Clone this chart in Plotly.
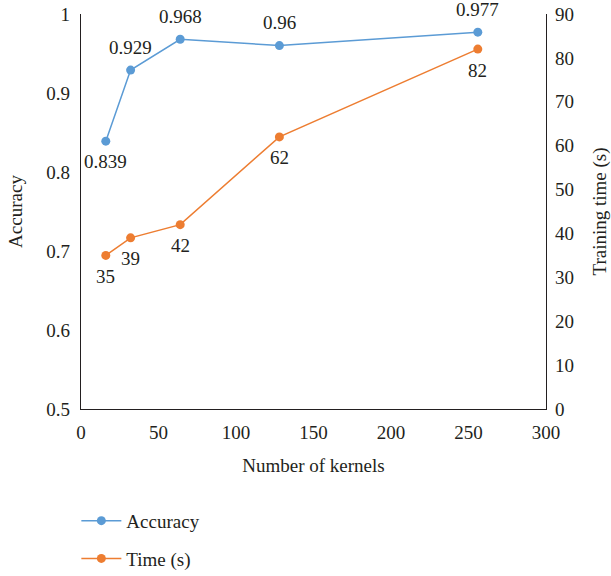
import plotly.graph_objects as go

kernels = [16, 32, 64, 128, 256]
accuracy = [0.839, 0.929, 0.968, 0.96, 0.977]
train_time = [35, 39, 42, 62, 82]
acc_above = [False, True, True, True, True]

BLUE = "#5B9BD5"
ORANGE = "#ED7D31"
FONT = "Liberation Serif"
TXT = "#231F20"
FS = 19

fig = go.Figure()
fig.add_trace(go.Scatter(
    x=kernels, y=accuracy, name="Accuracy", mode="lines+markers",
    legendgroup="a",
    line=dict(color=BLUE, width=1.5), marker=dict(color=BLUE, size=9),
    cliponaxis=False,
))
fig.add_trace(go.Scatter(
    x=kernels, y=train_time, name="Time (s)", mode="lines+markers",
    yaxis="y2", legendgroup="t",
    line=dict(color=ORANGE, width=1.5), marker=dict(color=ORANGE, size=9),
    cliponaxis=False,
))

# value labels next to each point
for k, v, up in zip(kernels, accuracy, acc_above):
    fig.add_annotation(x=k, y=v, xref="x", yref="y", text=f"{v:g}",
                       showarrow=False, yshift=23 if up else -20,
                       font=dict(family=FONT, size=FS, color=TXT))
for k, v in zip(kernels, train_time):
    fig.add_annotation(x=k, y=v, xref="x", yref="y2", text=str(v),
                       showarrow=False, yshift=-21,
                       font=dict(family=FONT, size=FS, color=TXT))

axis_common = dict(
    showgrid=False, zeroline=False, showline=True, linecolor="#231F20",
    linewidth=1.2, ticks="", automargin=False,
    tickfont=dict(family=FONT, size=FS, color=TXT),
    title_font=dict(family=FONT, size=FS, color=TXT),
)

fig.update_layout(
    width=611, height=576,
    margin=dict(l=81, r=65, t=14, b=167, autoexpand=False),
    paper_bgcolor="white", plot_bgcolor="white",
    font=dict(family=FONT, size=FS, color=TXT),
    xaxis=dict(range=[0, 300], dtick=50, ticklabelstandoff=6,
               title=dict(text="Number of kernels", standoff=16), **axis_common),
    yaxis=dict(range=[0.5, 1], dtick=0.1, tickformat="~g", ticklabelstandoff=6,
               title=dict(text="Accuracy", standoff=18), **axis_common),
    yaxis2=dict(range=[0, 90], dtick=10, overlaying="y", side="right",
                ticklabelstandoff=4,
                title=dict(text="Training time (s)", standoff=22), **axis_common),
    showlegend=True,
    legend=dict(orientation="v", x=-0.01, xanchor="left", y=-0.235, yanchor="top",
                font=dict(family=FONT, size=FS, color=TXT), tracegroupgap=10,
                itemwidth=40),
)

fig.write_html("out.html")
